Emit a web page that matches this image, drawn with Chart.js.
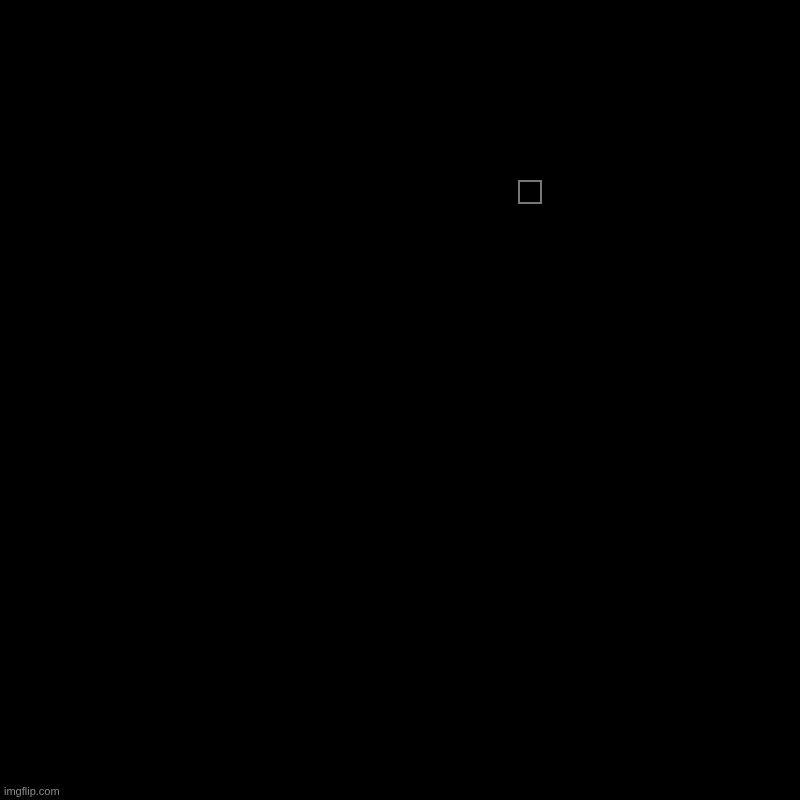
<!DOCTYPE html>
<html>
<head>
<meta charset="utf-8">
<script src="https://cdn.jsdelivr.net/npm/chart.js@4"></script>
<style>
  html, body { margin: 0; padding: 0; background: #000; }
  #wrap { width: 800px; height: 800px; position: relative; }
</style>
</head>
<body>
<div id="wrap"><canvas id="grafico"></canvas></div>
<script>
// pie with no data: only the empty legend entry shows
const categorias = [""];
const valores = [0];

new Chart(document.getElementById("grafico"), {
  type: "pie",
  data: {
    labels: categorias,
    datasets: [
      {
        data: valores,
        backgroundColor: "#000000",
        borderColor: "#777777",
        borderWidth: 2,
      },
    ],
  },
  options: {
    responsive: true,
    maintainAspectRatio: false,
    animation: false,
    layout: { padding: { top: 171, right: 242, bottom: 0, left: 4 } },
    plugins: {
      legend: {
        position: "right",
        align: "start",
        labels: {
          boxWidth: 22,
          boxHeight: 22,
          padding: 10,
          color: "#777777",
          font: { family: "Arial, Liberation Sans", size: 14 },
        },
      },
      subtitle: {
        display: true,
        text: "imgflip.com",
        position: "bottom",
        align: "start",
        color: "#8a8a8a",
        font: { family: "Arial, Liberation Sans", size: 11 },
        padding: { top: 0, bottom: 1 },
      },
      tooltip: { enabled: false },
    },
  },
});
</script>
</body>
</html>
